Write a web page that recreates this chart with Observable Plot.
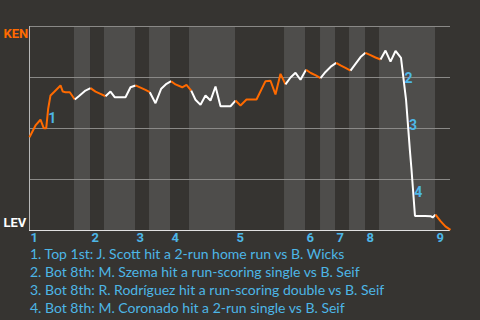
<!DOCTYPE html>
<html><head><meta charset="utf-8">
<script src="https://cdn.jsdelivr.net/npm/d3@7"></script>
<script src="https://cdn.jsdelivr.net/npm/@observablehq/plot@0.6"></script>
<style>
html,body{margin:0;padding:0;background:#363431;width:480px;height:320px;overflow:hidden}
#chart svg{display:block}
#events{margin:1px 0 0 0;padding:0 0 0 30px;font-family:Lato,sans-serif;font-size:14px;line-height:18px;color:#4db6e6;white-space:nowrap}
</style></head><body>
<div id="chart"></div>
<div id="events"></div>
<script>
// Game progress (plate-appearance units) and KEN win probability (%)
const playX = [0,1.24,2.27,2.96,3.45,3.86,4.34,5.02,6.41,6.88,7.44,8.33,9.36,10.18,11.57,12.61,13.64,14.67,15.71,16.74,17.64,19.84,20.87,21.91,22.94,23.97,24.86,26.04,27.22,28.31,29.28,30.17,31.56,32.44,33.42,34.30,35.34,36.37,37.40,38.44,39.47,40.50,41.54,42.57,43.60,44.84,45.88,46.91,48.77,49.80,50.83,51.87,52.90,53.94,54.97,56.00,57.14,58.13,59.17,60.14,61.17,62.41,63.38,64.27,65.30,66.34,67.37,68.41,69.44,70.47,71.50,72.54,73.57,74.60,75.64,76.77,77.81,78.63,78.94,79.66,80.74,81.77,82.87,83.31,83.90,84.90,85.94,87.00];
const kenWinPct = [45.7,51.5,54.3,50.1,50.1,59.7,66.2,67.8,71.1,68.1,67.8,67.8,64.2,65.8,68.6,69.8,68.1,67.0,65.8,68.1,65.3,65.3,70.2,71.1,70.0,68.9,67.8,62.4,69.5,71.9,73.2,71.6,70.2,71.4,68.6,64.1,61.6,66.2,63.7,70.6,60.9,60.9,60.9,63.7,61.3,64.2,64.2,64.2,73.2,73.4,66.7,76.8,71.6,75.0,77.3,73.9,78.8,77.2,76.0,74.7,77.7,80.6,82.2,80.9,79.7,78.4,81.7,85.0,87.1,86.0,84.8,83.8,88.2,82.8,88.0,84.6,64.2,38.7,29.9,7.1,7.1,7.1,7.0,6.4,7.8,4.7,2.0,0.3];
// Half-inning boundaries (top 1st, bot 1st, top 2nd, ...), end of game last
const halfBounds = [0,9.30,12.61,15.50,21.91,24.80,29.14,33.06,42.57,52.70,57.04,60.14,63.24,66.13,69.44,72.33,83.90,87];
const inningLabels = ["1","2","3","4","5","6","7","8","9"];
const gridLevels = [25,50,75,100];
const teamTop = "KEN", teamBottom = "LEV";
// Key events: index of the play that ends the swing
const eventIdx = [5,76,77,79];
const eventLabels = ["1","2","3","4"];
const eventTexts = [
  "Top 1st: J. Scott hit a 2-run home run vs B. Wicks",
  "Bot 8th: M. Szema hit a run-scoring single vs B. Seif",
  "Bot 8th: R. Rodríguez hit a run-scoring double vs B. Seif",
  "Bot 8th: M. Coronado hit a 2-run single vs B. Seif"
];

const ORANGE = "#ff6a00", WHITE = "#ffffff", BLUE = "#4db6e6";
const BAND = "#4e4d4b", GRID = "#8a8987";
const FONT = "Roboto, sans-serif";

// build colored runs (orange = top half, white = bottom half)
const segs = [];
let run = -1, prevH = null;
for (let i = 0; i < playX.length - 1; i++) {
  const mid = (playX[i] + playX[i+1]) / 2;
  const h = d3.bisectRight(halfBounds, mid) - 1;
  const color = h % 2 === 0 ? ORANGE : WHITE;
  if (h !== prevH) { run++; prevH = h; segs.push({run, color, x: playX[i], p: kenWinPct[i]}); }
  segs.push({run, color, x: playX[i+1], p: kenWinPct[i+1]});
}
const bands = [];
for (let h = 1; h < halfBounds.length - 1; h += 2) bands.push({x1: halfBounds[h], x2: halfBounds[h+1]});
const innStarts = halfBounds.filter((d, i) => i % 2 === 0 && i < halfBounds.length - 1);
const ann = eventIdx.map((k, j) => ({
  x: (playX[k-1] + playX[k]) / 2, p: (kenWinPct[k-1] + kenWinPct[k]) / 2, label: eventLabels[j]
}));

const T = {fontWeight: "bold", fontFamily: FONT, lineAnchor: "middle"};
const chart = Plot.plot({
  width: 480, height: 244,
  marginLeft: 29, marginRight: 30, marginTop: 26, marginBottom: 14,
  x: {domain: [0, 87], axis: null},
  y: {domain: [0, 100], axis: null},
  color: {type: "identity"},
  style: {background: "transparent", fontFamily: FONT, overflow: "visible"},
  marks: [
    Plot.rect(bands, {x1: "x1", x2: "x2", fill: BAND}),
    Plot.ruleY(gridLevels, {stroke: GRID, strokeWidth: 1}),
    Plot.ruleX([0], {stroke: "#b8b8b8"}),
    Plot.ruleY([0], {stroke: "#e0e0e0"}),
    Plot.line(segs, {x: "x", y: "p", z: "run", stroke: "color", strokeWidth: 2, strokeLinejoin: "miter", strokeLinecap: "butt"}),
    Plot.text(ann, {...T, fontSize: 14, x: "x", y: "p", text: "label", dx: 5, fill: BLUE}),
    Plot.text(innStarts, {...T, fontSize: 13, x: d => d, text: (d, i) => inningLabels[i], frameAnchor: "bottom", dy: 7.5, dx: 1, textAnchor: "start", fill: BLUE}),
    Plot.text([teamTop], {...T, fontSize: 13, text: d => d, frameAnchor: "top-left", dx: -26, dy: 7.5, textAnchor: "start", fill: ORANGE}),
    Plot.text([teamBottom], {...T, fontSize: 13, text: d => d, frameAnchor: "bottom-left", dx: -26, dy: -7.5, textAnchor: "start", fill: WHITE})
  ]
});
document.getElementById("chart").append(chart);
const ev = document.getElementById("events");
eventTexts.forEach((t, i) => {
  const div = document.createElement("div");
  div.textContent = `${eventLabels[i]}. ${t}`;
  ev.append(div);
});
</script></body></html>
